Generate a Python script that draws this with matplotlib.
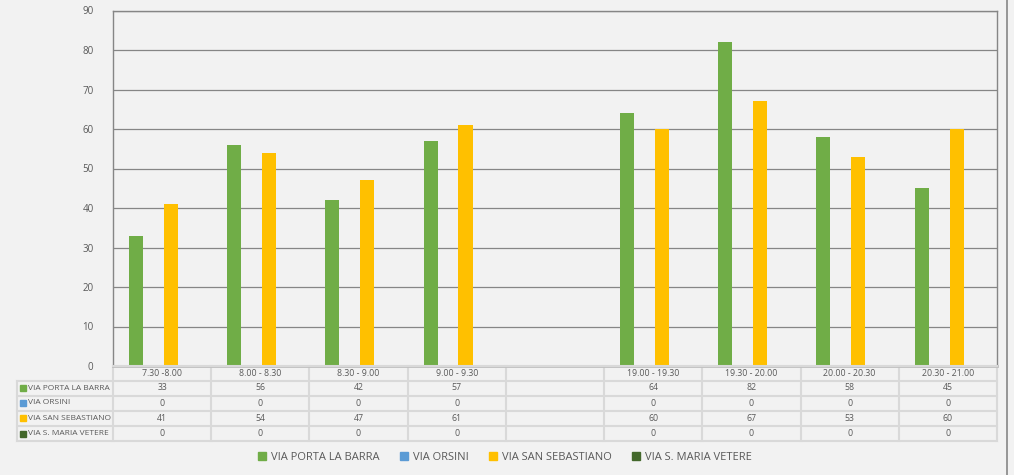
import numpy as np
import matplotlib.pyplot as plt
from matplotlib.transforms import blended_transform_factory
from matplotlib.patches import Rectangle

plt.rcParams['font.family'] = ['Open Sans', 'DejaVu Sans']

categories = ['7.30 -8.00', '8.00 - 8.30', '8.30 - 9.00', '9.00 - 9.30', '',
              '19.00 - 19.30', '19.30 - 20.00', '20.00 - 20.30', '20.30 - 21.00']
series_names = ['VIA PORTA LA BARRA', 'VIA ORSINI', 'VIA SAN SEBASTIANO', 'VIA S. MARIA VETERE']
porta_la_barra = [33, 56, 42, 57, None, 64, 82, 58, 45]
orsini = [0, 0, 0, 0, None, 0, 0, 0, 0]
san_sebastiano = [41, 54, 47, 61, None, 60, 67, 53, 60]
maria_vetere = [0, 0, 0, 0, None, 0, 0, 0, 0]
series = [porta_la_barra, orsini, san_sebastiano, maria_vetere]
colors = ['#70ad47', '#5b9bd5', '#ffc000', '#43682b']

W, H = 1014, 475
bg = '#f2f2f2'
txt = '#595959'
fig = plt.figure(figsize=(W / 100, H / 100), dpi=100, facecolor=bg)
ax = fig.add_axes([113 / W, 1 - 366 / H, 884 / W, 355.5 / H], facecolor=bg)

x = np.arange(len(categories))
step = 0.178
width = 0.143
for i, (vals, c) in enumerate(zip(series, colors)):
    v = np.array([np.nan if a is None else a for a in vals], dtype=float)
    ax.bar(x + (i - 1.5) * step, v, width=width, color=c, zorder=3)

ax.set_xlim(-0.5, len(categories) - 0.5)
ax.set_ylim(0, 90)
ax.set_yticks(range(0, 91, 10))
ax.yaxis.grid(True, color='#868686', linewidth=0.9, zorder=0)
ax.tick_params(axis='y', length=0, labelsize=7, labelcolor=txt, pad=14)
ax.set_xticks([])
for s in ['left', 'top', 'right']:
    ax.spines[s].set_color('#868686')
    ax.spines[s].set_linewidth(1.0)
ax.spines['bottom'].set_color('#bfbfbf')
ax.spines['bottom'].set_linewidth(2)

# data table below the axes
tr = blended_transform_factory(ax.transData, fig.transFigure)
fy = lambda py: 1 - py / H
fx = lambda px: px / W
rows_y = [366, 380.5, 395.5, 410.5, 426, 441]
grid_c = '#d9d9d9'
lw = 1.5
for py in rows_y[1:]:
    fig.add_artist(plt.Line2D([fx(17), fx(997)], [fy(py), fy(py)], color=grid_c, lw=lw))
fig.add_artist(plt.Line2D([fx(113), fx(997)], [fy(366), fy(366)], color=grid_c, lw=lw))
fig.add_artist(plt.Line2D([fx(17), fx(17)], [fy(380.5), fy(441)], color=grid_c, lw=lw))
for k in range(len(categories) + 1):
    ax.add_line(plt.Line2D([k - 0.5, k - 0.5], [fy(366), fy(441)], color=grid_c, lw=lw,
                           transform=tr, clip_on=False))

def row_mid(r):
    return fy((rows_y[r] + rows_y[r + 1]) / 2)

for k, cat in enumerate(categories):
    ax.text(k, row_mid(0), cat, transform=tr, ha='center', va='center',
            fontsize=6.3, color=txt)
    for r, vals in enumerate(series):
        if vals[k] is not None:
            ax.text(k, row_mid(r + 1), str(vals[k]), transform=tr, ha='center',
                    va='center', fontsize=6.3, color=txt)

for r, (name, c) in enumerate(zip(series_names, colors)):
    ym = row_mid(r + 1)
    fig.add_artist(Rectangle((fx(19.5), ym - 3 / H), 6 / W, 6 / H, color=c,
                             transform=fig.transFigure))
    fig.text(fx(28), ym, name, ha='left', va='center', fontsize=6.0, color=txt)

# legend
handles = [Rectangle((0, 0), 1, 1, color=c) for c in colors]
fig.legend(handles, series_names, loc='center', bbox_to_anchor=(fx(505), fy(457)),
           ncol=4, frameon=False, fontsize=8, labelcolor=txt, handlelength=0.7,
           handleheight=0.7, handletextpad=0.4, columnspacing=1.9)

# right border of the chart frame
fig.add_artist(plt.Line2D([fx(1007), fx(1007)], [0, 1], color='#868686', lw=1.2))

fig.savefig('out.png', dpi=100, facecolor=bg)
